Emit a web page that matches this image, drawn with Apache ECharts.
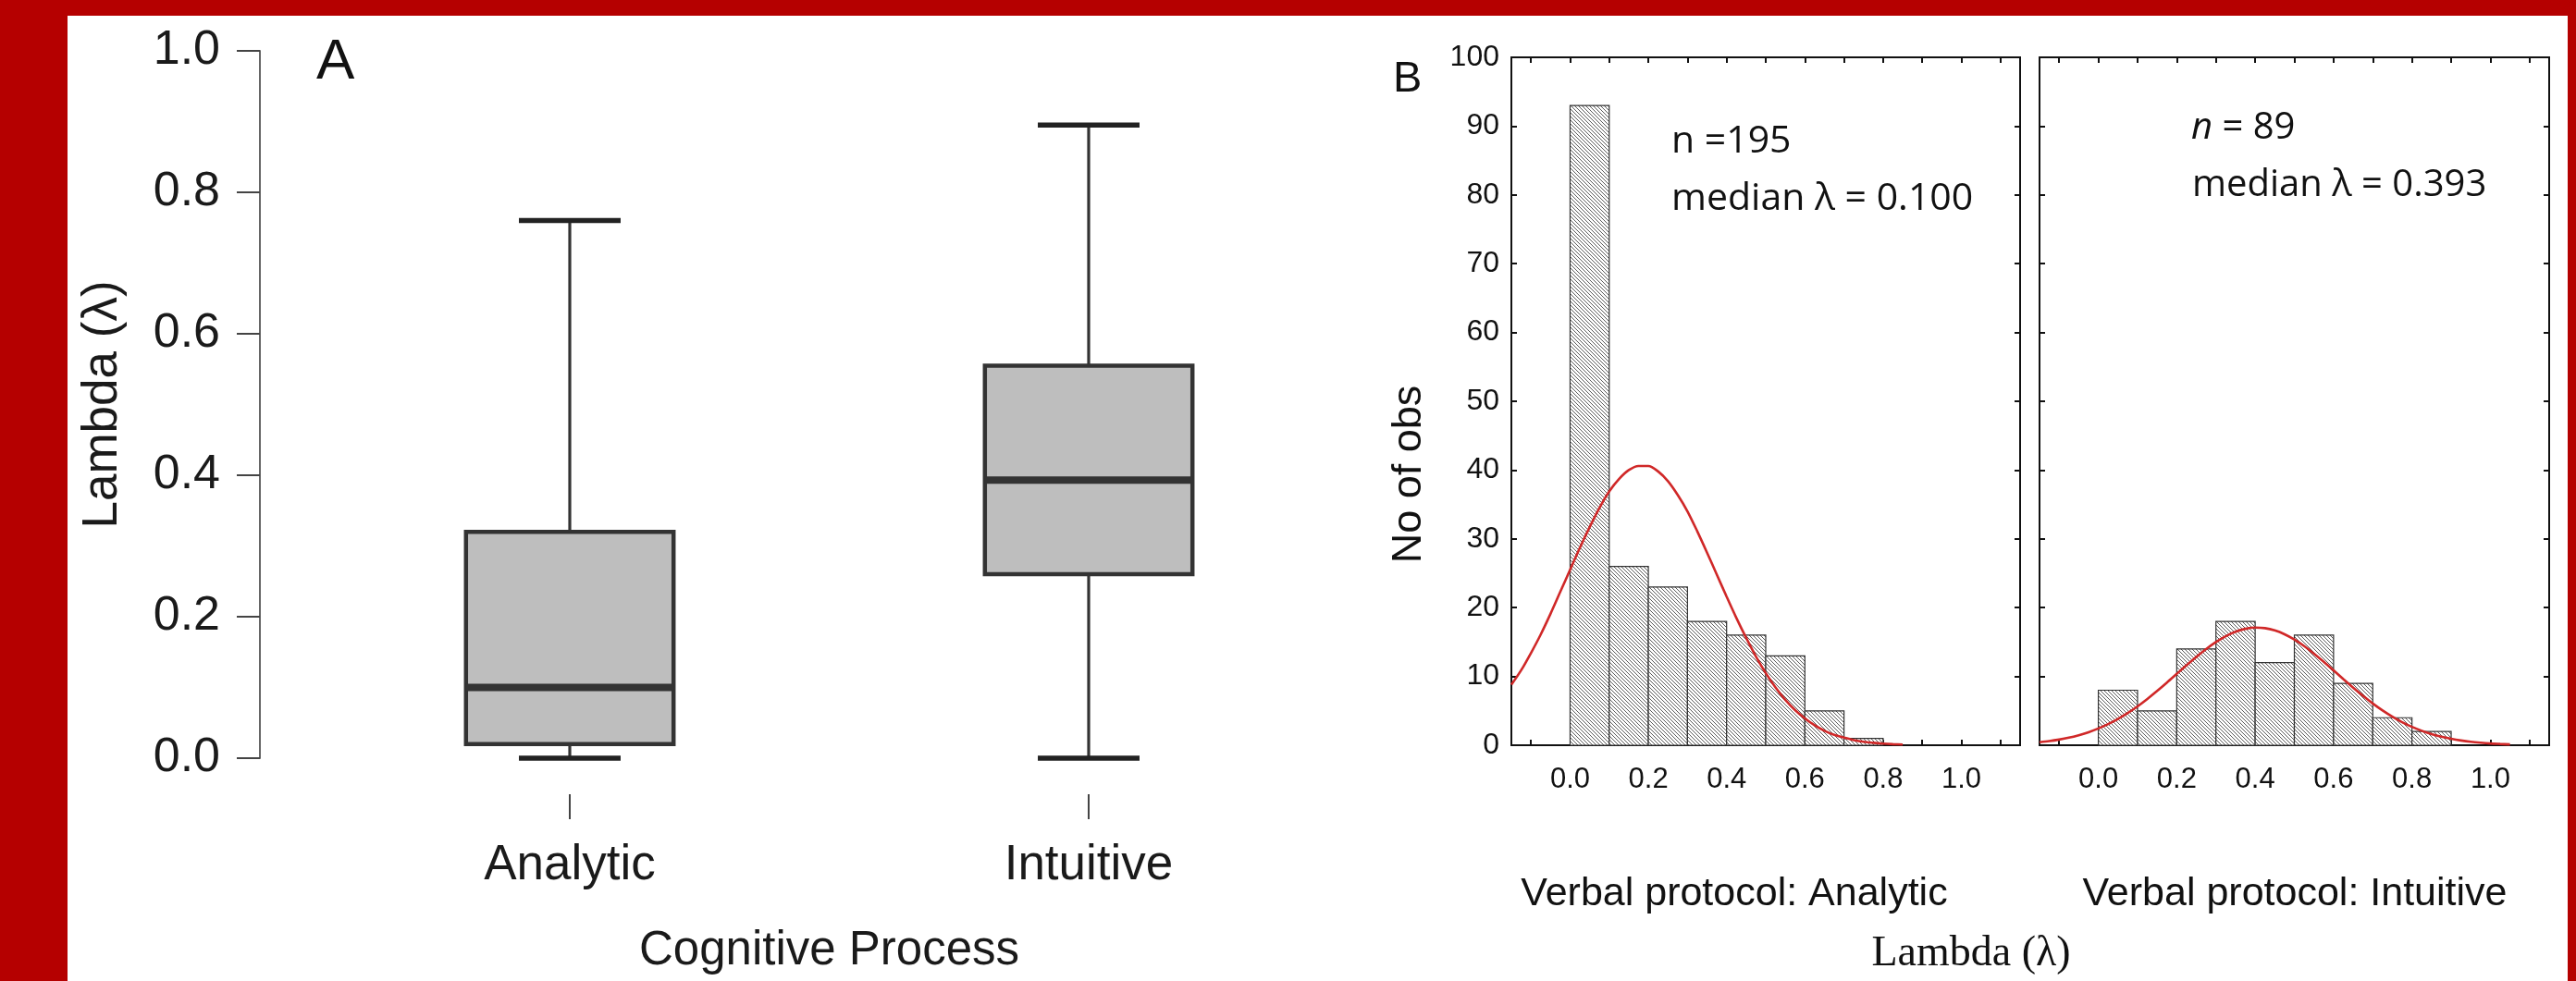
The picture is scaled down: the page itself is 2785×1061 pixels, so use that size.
<!DOCTYPE html>
<html>
<head>
<meta charset="utf-8">
<script src="https://cdn.jsdelivr.net/npm/echarts@6/dist/echarts.min.js"></script>
<style>
  html, body { margin: 0; padding: 0; background: #b50000; }
  #paper { position: absolute; left: 73px; top: 17px; width: 2703px; height: 1044px; background: #fff; }
  #chart { position: absolute; left: 0; top: 0; width: 2785px; height: 1061px; }
</style>
</head>
<body>
<div id="paper"></div>
<div id="chart"></div>
<script>
// panel A: box plot of lambda by cognitive process
var boxCategories = ['Analytic', 'Intuitive'];
// min, q1, median, q3, max
var boxStats = [
    [0.0, 0.02, 0.10, 0.32, 0.76],
    [0.0, 0.26, 0.393, 0.555, 0.895]
];

// panel B: histograms (bins of 0.1 starting at these values)
var binStarts = [0.0, 0.1, 0.2, 0.3, 0.4, 0.5, 0.6, 0.7, 0.8, 0.9];
var analyticCounts = [93, 26, 23, 18, 16, 13, 5, 1, 0, 0];
var intuitiveCounts = [8, 5, 14, 18, 12, 16, 9, 4, 2, 0];
var binWidth = 0.1;

var fitX = [-0.15, -0.125, -0.1, -0.075, -0.05, -0.025, 0, 0.025, 0.05, 0.075, 0.1, 0.125, 0.15, 0.175,
    0.2, 0.225, 0.25, 0.275, 0.3, 0.325, 0.35, 0.375, 0.4, 0.425, 0.45, 0.475, 0.5, 0.525, 0.55, 0.575,
    0.6, 0.625, 0.65, 0.675, 0.7, 0.725, 0.75, 0.775, 0.8, 0.825, 0.85, 0.875, 0.9, 0.925, 0.95, 0.975,
    1.0, 1.025, 1.05];
var analyticFit = [8.8, 10.9, 13.4, 16.1, 19.1, 22.3, 25.5, 28.7, 31.7, 34.5, 36.9, 38.7, 40.0, 40.6,
    40.6, 39.8, 38.4, 36.4, 34.0, 31.1, 28.0, 24.8, 21.6, 18.5, 15.6, 12.9, 10.5, 8.4, 6.6, 5.1,
    3.9, 2.9, 2.1, 1.5, 1.1, 0.75, 0.5, 0.35, 0.23, 0.15, 0.1];
var intuitiveFit = [0.44, 0.6, 0.82, 1.1, 1.46, 1.89, 2.43, 3.07, 3.82, 4.68, 5.65, 6.73, 7.89, 9.11,
    10.37, 11.63, 12.85, 13.98, 15.0, 15.85, 16.49, 16.92, 17.1, 17.02, 16.69, 16.13, 15.36, 14.41, 13.32, 12.13,
    10.88, 9.61, 8.37, 7.18, 6.07, 5.06, 4.15, 3.35, 2.67, 2.1, 1.62, 1.23, 0.93, 0.69, 0.5, 0.36,
    0.25, 0.18, 0.12];

var yTicksA = [0, 1, 0.2];      // min, max, step
var yTicksB = [0, 100, 10];
var xTicksB = [-0.1, 1.1, 0.1];
var xRangeB = [-0.15, 1.15];

var sans = '"Liberation Sans", Arial, sans-serif';
var serif = '"Liberation Serif", "Times New Roman", serif';
var calib = '"Open Sans", "Noto Sans", sans-serif';

function makeHatch() {
    var cv = document.createElement('canvas');
    cv.width = 4;
    cv.height = 4;
    var ctx = cv.getContext('2d');
    ctx.fillStyle = '#fff';
    ctx.fillRect(0, 0, 4, 4);
    ctx.strokeStyle = '#5a5a5a';
    ctx.lineWidth = 1;
    ctx.beginPath();
    ctx.moveTo(-1, -1);
    ctx.lineTo(5, 5);
    ctx.stroke();
    return cv;
}
var hatch = { image: makeHatch(), repeat: 'repeat' };

function zip(xs, ys) {
    var out = [];
    for (var i = 0; i < ys.length; i++) out.push([xs[i], ys[i]]);
    return out;
}

function boxItem(params, api) {
    var idx = api.value(0);
    var c = function (v) { return api.coord([idx, v]); };
    var band = api.size([1, 0])[0];
    var half = band * 0.2, cap = band * 0.098;
    var pMin = c(api.value(1)), pQ1 = c(api.value(2)), pMed = c(api.value(3));
    var pQ3 = c(api.value(4)), pMax = c(api.value(5));
    var x = pMin[0];
    var lineStyle = function (w) { return { stroke: '#333', lineWidth: w }; };
    return {
        type: 'group',
        children: [
            { type: 'line', shape: { x1: x, y1: pMax[1], x2: x, y2: pQ3[1] }, style: lineStyle(3.2) },
            { type: 'line', shape: { x1: x, y1: pQ1[1], x2: x, y2: pMin[1] }, style: lineStyle(3.2) },
            { type: 'line', shape: { x1: x - cap, y1: pMax[1], x2: x + cap, y2: pMax[1] }, style: { stroke: '#222', lineWidth: 5.5 } },
            { type: 'line', shape: { x1: x - cap, y1: pMin[1], x2: x + cap, y2: pMin[1] }, style: { stroke: '#222', lineWidth: 5.5 } },
            { type: 'rect', shape: { x: x - half, y: pQ3[1], width: half * 2, height: pQ1[1] - pQ3[1] },
              style: { fill: '#bebebe', stroke: '#333', lineWidth: 4.5 } },
            { type: 'line', shape: { x1: x - half, y1: pMed[1], x2: x + half, y2: pMed[1] }, style: lineStyle(8) }
        ]
    };
}

function histItem(params, api) {
    var x0 = api.value(0), n = api.value(1);
    if (!n) return;
    var p0 = api.coord([x0, n]), p1 = api.coord([x0 + binWidth, 0]);
    return {
        type: 'rect',
        shape: { x: p0[0], y: p0[1], width: p1[0] - p0[0], height: p1[1] - p0[1] },
        style: { fill: hatch, stroke: '#333', lineWidth: 1.2 }
    };
}

var boxData = boxStats.map(function (s, i) { return [i].concat(s); });
var histA = binStarts.map(function (b, i) { return [b, analyticCounts[i]]; });
var histI = binStarts.map(function (b, i) { return [b, intuitiveCounts[i]]; });

function bLabel(v) {
    var k = Math.round(v * 10);
    return (k >= 0 && k <= 10 && k % 2 === 0) ? (k / 10).toFixed(1) : '';
}

var frame = { show: true, borderColor: '#111', borderWidth: 2, backgroundColor: 'transparent' };
var tickIn = { show: true, inside: true, length: 6, lineStyle: { color: '#111', width: 2 } };
var noLine = { show: false, onZero: false };

var myChart = echarts.init(document.getElementById('chart'));
var option = {
    animation: false,
    backgroundColor: 'transparent',
    grid: [
        { left: 335.5, top: 55, width: 1122, height: 765 },
        Object.assign({ left: 1634, top: 62, width: 550, height: 744 }, frame),
        Object.assign({ left: 2205, top: 62, width: 551, height: 744 }, frame),
        { left: 1634 + 0.05 * 550 / 1.3, top: 62, width: 1.2 * 550 / 1.3, height: 744 },
        { left: 2205 + 0.05 * 551 / 1.3, top: 62, width: 1.2 * 551 / 1.3, height: 744 }
    ],
    xAxis: [
        {
            gridIndex: 0, type: 'category', data: boxCategories, offset: 39,
            axisLine: { show: true, onZero: false, lineStyle: { color: 'rgba(0,0,0,0)' } },
            axisTick: { show: true, alignWithLabel: true, length: 27, lineStyle: { color: '#444', width: 2 } },
            axisLabel: { fontFamily: sans, fontSize: 53, color: '#1a1a1a', margin: 77, verticalAlign: 'middle' },
            name: 'Cognitive Process', nameLocation: 'middle', nameGap: 170,
            nameTextStyle: { fontFamily: sans, fontSize: 51, color: '#1a1a1a', verticalAlign: 'middle' }
        },
        { gridIndex: 1, type: 'value', min: xRangeB[0], max: xRangeB[1], show: false },
        { gridIndex: 2, type: 'value', min: xRangeB[0], max: xRangeB[1], show: false },
        {
            gridIndex: 3, type: 'value', position: 'bottom', min: xTicksB[0], max: xTicksB[1], interval: xTicksB[2],
            axisLine: noLine, splitLine: { show: false }, axisTick: tickIn,
            axisLabel: { fontFamily: sans, fontSize: 31, color: '#111', margin: 22, formatter: bLabel }
        },
        {
            gridIndex: 3, type: 'value', position: 'top', min: xTicksB[0], max: xTicksB[1], interval: xTicksB[2],
            axisLine: noLine, splitLine: { show: false }, axisTick: tickIn, axisLabel: { show: false }
        },
        {
            gridIndex: 4, type: 'value', position: 'bottom', min: xTicksB[0], max: xTicksB[1], interval: xTicksB[2],
            axisLine: noLine, splitLine: { show: false }, axisTick: tickIn,
            axisLabel: { fontFamily: sans, fontSize: 31, color: '#111', margin: 22, formatter: bLabel }
        },
        {
            gridIndex: 4, type: 'value', position: 'top', min: xTicksB[0], max: xTicksB[1], interval: xTicksB[2],
            axisLine: noLine, splitLine: { show: false }, axisTick: tickIn, axisLabel: { show: false }
        }
    ],
    yAxis: [
        {
            gridIndex: 0, type: 'value', min: yTicksA[0], max: yTicksA[1], interval: yTicksA[2], offset: 54.5,
            axisLine: { show: true, onZero: false, lineStyle: { color: '#666', width: 2 } },
            axisTick: { show: true, length: 25, lineStyle: { color: '#444', width: 2 } },
            splitLine: { show: false },
            axisLabel: { fontFamily: sans, fontSize: 52, color: '#1a1a1a', margin: 43, formatter: function (v) { return v.toFixed(1); } },
            name: 'Lambda (λ)', nameLocation: 'middle', nameGap: 170,
            nameTextStyle: { fontFamily: sans, fontSize: 53, color: '#1a1a1a', verticalAlign: 'middle', align: 'center' }
        },
        {
            gridIndex: 1, type: 'value', position: 'left', min: yTicksB[0], max: yTicksB[1], interval: yTicksB[2],
            axisLine: noLine, splitLine: { show: false }, axisTick: tickIn,
            axisLabel: { fontFamily: sans, fontSize: 32, color: '#111', margin: 13 }
        },
        {
            gridIndex: 1, type: 'value', position: 'right', min: yTicksB[0], max: yTicksB[1], interval: yTicksB[2],
            axisLine: noLine, splitLine: { show: false }, axisTick: tickIn, axisLabel: { show: false }
        },
        {
            gridIndex: 2, type: 'value', position: 'left', min: yTicksB[0], max: yTicksB[1], interval: yTicksB[2],
            axisLine: noLine, splitLine: { show: false }, axisTick: tickIn, axisLabel: { show: false }
        },
        {
            gridIndex: 2, type: 'value', position: 'right', min: yTicksB[0], max: yTicksB[1], interval: yTicksB[2],
            axisLine: noLine, splitLine: { show: false }, axisTick: tickIn, axisLabel: { show: false }
        },
        { gridIndex: 3, type: 'value', min: 0, max: 1, show: false },
        { gridIndex: 4, type: 'value', min: 0, max: 1, show: false }
    ],
    graphic: [
        { type: 'text', x: 342, y: 68, style: { text: 'A', font: '62px ' + sans, fill: '#111', align: 'left', verticalAlign: 'middle' } },
        { type: 'text', x: 1506, y: 86, style: { text: 'B', font: '47px ' + sans, fill: '#111', align: 'left', verticalAlign: 'middle' } },
        { type: 'text', x: 1807, y: 153, style: { text: 'n =195', font: '41px ' + calib, fill: '#111', align: 'left', verticalAlign: 'middle' } },
        { type: 'text', x: 1807, y: 215, style: { text: 'median λ = 0.100', font: '41px ' + calib, fill: '#111', align: 'left', verticalAlign: 'middle' } },
        { type: 'text', x: 2369, y: 139, style: {
            text: '{i|n} = 89', fontSize: 40, fontFamily: calib, fill: '#111', align: 'left', verticalAlign: 'middle',
            rich: { i: { fontStyle: 'italic', fontSize: 40, fontFamily: calib, fill: '#111' } } } },
        { type: 'text', x: 2370, y: 201, style: { text: 'median λ = 0.393', font: '40px ' + calib, fill: '#111', align: 'left', verticalAlign: 'middle' } },
        { type: 'text', x: 1524, y: 513, rotation: Math.PI / 2, style: { text: 'No of obs', font: '45px ' + sans, fill: '#111', align: 'center', verticalAlign: 'middle' } },
        { type: 'text', x: 1875, y: 967, style: { text: 'Verbal protocol: Analytic', font: '43px ' + sans, fill: '#111', align: 'center', verticalAlign: 'middle' } },
        { type: 'text', x: 2481, y: 967, style: { text: 'Verbal protocol: Intuitive', font: '43px ' + sans, fill: '#111', align: 'center', verticalAlign: 'middle' } },
        { type: 'text', x: 2131, y: 1032, style: { text: 'Lambda (λ)', font: '46px ' + serif, fill: '#111', align: 'center', verticalAlign: 'middle' } }
    ],
    series: [
        {
            type: 'custom', name: 'box', xAxisIndex: 0, yAxisIndex: 0,
            renderItem: boxItem, data: boxData, encode: { x: 0, y: [1, 2, 3, 4, 5] }
        },
        {
            type: 'custom', name: 'Analytic', xAxisIndex: 1, yAxisIndex: 1,
            renderItem: histItem, data: histA, encode: { x: 0, y: 1 }
        },
        {
            type: 'line', name: 'Analytic fit', xAxisIndex: 1, yAxisIndex: 1, smooth: 0.3, showSymbol: false,
            lineStyle: { color: '#d02828', width: 2.6 }, data: zip(fitX, analyticFit), z: 5
        },
        {
            type: 'custom', name: 'Intuitive', xAxisIndex: 2, yAxisIndex: 3,
            renderItem: histItem, data: histI, encode: { x: 0, y: 1 }
        },
        {
            type: 'line', name: 'Intuitive fit', xAxisIndex: 2, yAxisIndex: 3, smooth: 0.3, showSymbol: false,
            lineStyle: { color: '#d02828', width: 2.6 }, data: zip(fitX, intuitiveFit), z: 5
        }
    ]
};
myChart.setOption(option);
</script>
</body>
</html>
